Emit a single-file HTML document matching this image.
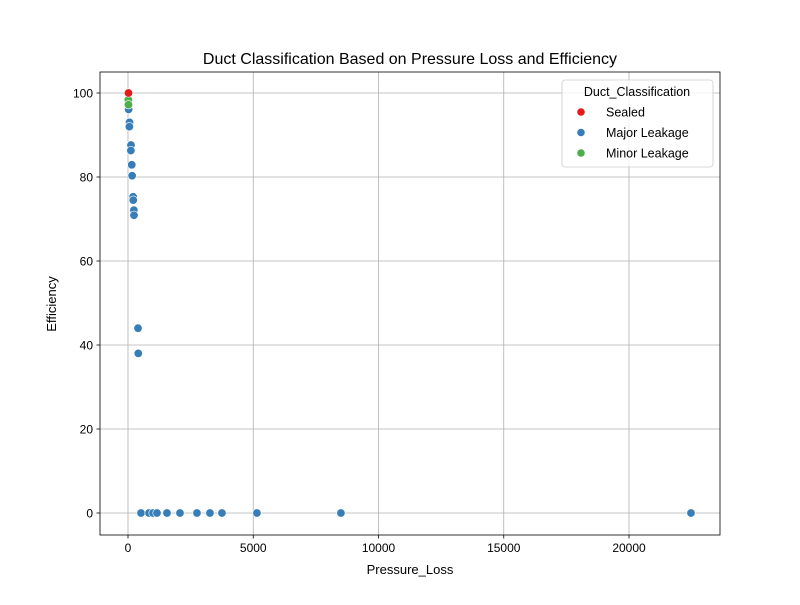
<!DOCTYPE html>
<html><head><meta charset="utf-8"><style>
body{margin:0;background:#fff;}
svg{font-family:"Liberation Sans","DejaVu Sans",sans-serif;}
</style></head><body>
<svg id="chart" width="800" height="600" xmlns="http://www.w3.org/2000/svg"></svg>
<script>
const categories = ["Sealed","Major Leakage","Minor Leakage"];
const colors = ["#e41a1c","#377eb8","#4daf4a"];
const sealedX = [20];
const sealedY = [100];
const minorX = [15, 20];
const minorY = [98.4, 97.2];
const majorX = [25, 60, 55, 120, 115, 150, 165, 205, 210, 235, 240, 400, 410,
  519, 838, 998, 1157, 1556, 2075, 2753, 3272, 3751, 5148, 8500, 22474];
const majorY = [96.1, 93, 92, 87.6, 86.3, 82.9, 80.3, 75.3, 74.5, 72.1, 70.9, 44, 38,
  0, 0, 0, 0, 0, 0, 0, 0, 0, 0, 0, 0];
const xTicks = [0, 5000, 10000, 15000, 20000];
const yTicks = [0, 20, 40, 60, 80, 100];

const NS = "http://www.w3.org/2000/svg";
const svg = document.getElementById("chart");
const L = 100, R = 720, T = 72, B = 535;
const xs = v => 128 + v * (629 - 128) / 20000;
const ys = v => 513 - v * (513 - 93) / 100;
function mk(tag, attrs, parent) {
  const e = document.createElementNS(NS, tag);
  for (const k in attrs) e.setAttribute(k, attrs[k]);
  (parent || svg).appendChild(e);
  return e;
}
// grid
xTicks.forEach(t => {
  const g = mk("line", {x1: xs(t), x2: xs(t), y1: T, y2: B, stroke: "#b0b0b0", "stroke-width": 0.8});
  
  
  const tk = mk("line", {x1: xs(t), x2: xs(t), y1: B, y2: B + 3.5, stroke: "#000", "stroke-width": 0.8});
  
  
  const lb = mk("text", {x: xs(t), y: B + 17, "text-anchor": "middle", "font-size": 12, fill: "#000"});
  lb.textContent = t;
  
  
});
yTicks.forEach(t => {
  const g = mk("line", {x1: L, x2: R, y1: ys(t), y2: ys(t), stroke: "#b0b0b0", "stroke-width": 0.8});
  
  
  const tk = mk("line", {x1: L - 3.5, x2: L, y1: ys(t), y2: ys(t), stroke: "#000", "stroke-width": 0.8});
  
  
  const lb = mk("text", {x: L - 7, y: ys(t) + 4.5, "text-anchor": "end", "font-size": 12, fill: "#000"});
  lb.textContent = t;
  
  
});
const frame = mk("rect", {x: L, y: T, width: R - L, height: B - T, fill: "none", stroke: "#000", "stroke-width": 0.8});


// points
function plot(xa, ya, color, name) {
  xa.forEach((x, i) => {
    const c = mk("circle", {cx: xs(x), cy: ys(ya[i]), r: 4.2, fill: color, stroke: "#fff", "stroke-width": 0.6});
    
    
  });
}
plot(majorX, majorY, colors[1], 'major-leakage-point');
plot(minorX, minorY, colors[2], 'minor-leakage-point');
plot(sealedX, sealedY, colors[0], 'sealed-point');
// titles
const title = mk("text", {x: 410, y: 64, "text-anchor": "middle", "font-size": 16, fill: "#000"});
title.textContent = "Duct Classification Based on Pressure Loss and Efficiency";


const xt = mk("text", {x: 410, y: 574, "text-anchor": "middle", "font-size": 13, fill: "#000"});
xt.textContent = "Pressure_Loss";


const yt = mk("text", {x: 56, y: 304, "text-anchor": "middle", "font-size": 13, fill: "#000", transform: "rotate(-90 56 304)"});
yt.textContent = "Efficiency";


// legend
const lg = mk("g", {});


const box = mk("rect", {x: 562, y: 80, width: 151, height: 87, rx: 3, fill: "#fff", "fill-opacity": 0.8, stroke: "#ccc", "stroke-width": 0.8}, lg);


const lt = mk("text", {x: 637, y: 96, "text-anchor": "middle", "font-size": 12.5, fill: "#000"}, lg);
lt.textContent = "Duct_Classification";


categories.forEach((c, i) => {
  const y = 112 + i * 20.5;
  const d = mk("circle", {cx: 581, cy: y, r: 3.8, fill: colors[i]}, lg);
  
  
  const t = mk("text", {x: 606, y: y + 4.5, "font-size": 12.5, fill: "#000"}, lg);
  t.textContent = c;
  
  
});
</script>
</body></html>
